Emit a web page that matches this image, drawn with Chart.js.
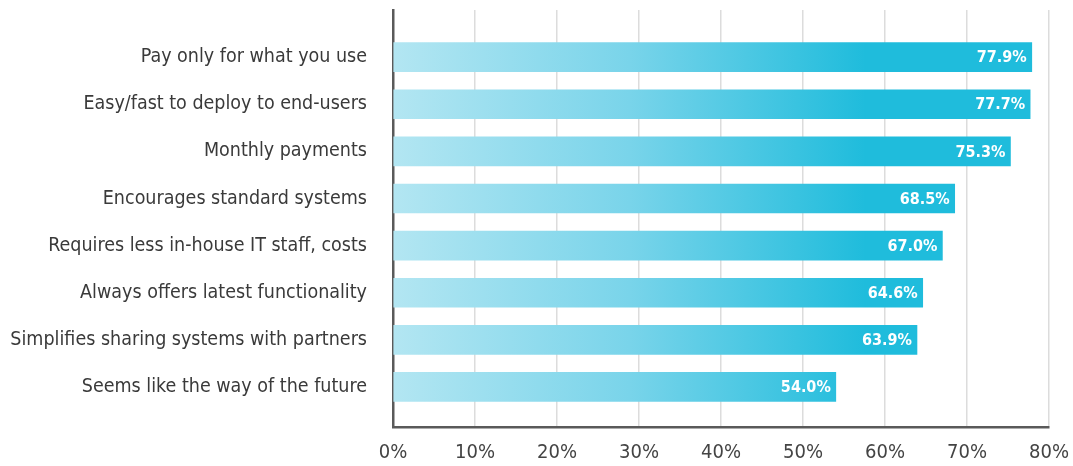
<!DOCTYPE html>
<html>
<head>
<meta charset="utf-8">
<script src="https://cdn.jsdelivr.net/npm/chart.js@4.4.0/dist/chart.umd.min.js"></script>
<style>
  html, body { margin: 0; padding: 0; background: #fff; }
  #wrap { width: 1073px; height: 466px; position: relative; }
</style>
</head>
<body>
<div id="wrap"><canvas id="benefitsChart"></canvas></div>
<script>
// categorias y valores
const categories = [
    'Pay only for what you use',
    'Easy/fast to deploy to end-users',
    'Monthly payments',
    'Encourages standard systems',
    'Requires less in-house IT staff, costs',
    'Always offers latest functionality',
    'Simplifies sharing systems with partners',
    'Seems like the way of the future'
];
const values = [77.9, 77.7, 75.3, 68.5, 67.0, 64.6, 63.9, 54.0];
const xTicks = [0, 10, 20, 30, 40, 50, 60, 70, 80];

const FONT = '"Liberation Sans Narrow", "DejaVu Sans Condensed", "Roboto", sans-serif';

// gradiente horizontal de las barras
function barGradient(context) {
    const chart = context.chart;
    const area = chart.chartArea;
    if (!area) return '#1fbcdc';
    const g = chart.ctx.createLinearGradient(area.left, 0, area.left + area.width * 0.72, 0);
    g.addColorStop(0, '#b3e6f2');
    g.addColorStop(0.5, '#79d4ea');
    g.addColorStop(1, '#1fbcdc');
    return g;
}

// etiquetas de valor dentro de la barra
const valueLabels = {
    id: 'valueLabels',
    afterDatasetsDraw(chart) {
        const ctx = chart.ctx;
        const meta = chart.getDatasetMeta(0);
        ctx.save();
        ctx.fillStyle = '#ffffff';
        ctx.font = 'bold 16px ' + FONT;
        ctx.textAlign = 'right';
        ctx.textBaseline = 'middle';
        meta.data.forEach((bar, i) => {
            ctx.fillText(values[i].toFixed(1) + '%', bar.x - 5, bar.y + 1);
        });
        ctx.restore();
    }
};

const ctx = document.getElementById('benefitsChart').getContext('2d');
const benefitsChart = new Chart(ctx, {
    type: 'bar',
    data: {
        datasets: [{
            data: values.map((v, i) => ({ x: v, y: i })),
            backgroundColor: barGradient,
            borderWidth: 0,
            barThickness: 29
        }]
    },
    options: {
        indexAxis: 'y',
        responsive: true,
        maintainAspectRatio: false,
        animation: false,
        layout: { padding: { top: 10, right: 24, left: 0, bottom: 0 } },
        plugins: {
            legend: { display: false },
            tooltip: { enabled: false }
        },
        scales: {
            x: {
                type: 'linear',
                min: 0,
                max: 80,
                afterBuildTicks(scale) {
                    scale.ticks = xTicks.map(v => ({ value: v }));
                },
                afterFit(scale) {
                    scale.height = 39;
                    scale.paddingLeft = 0;
                    scale.paddingRight = 0;
                },
                grid: { color: '#dcdcdc', lineWidth: 1.5, drawTicks: false },
                border: { display: true, color: '#5a5a5a', width: 2.5 },
                ticks: {
                    padding: 14,
                    color: '#444',
                    font: { family: FONT, size: 20 },
                    callback: v => v + '%'
                }
            },
            y: {
                type: 'linear',
                reverse: true,
                offset: false,
                min: -1.0,
                max: 7.85,
                afterBuildTicks(scale) {
                    scale.ticks = categories.map((c, i) => ({ value: i }));
                },
                afterFit(scale) {
                    scale.width = 393;
                    scale.paddingTop = 0;
                    scale.paddingBottom = 0;
                },
                grid: { display: false, drawTicks: false, offset: false },
                border: { display: true, color: '#5a5a5a', width: 2.5 },
                ticks: {
                    padding: 26,
                    color: '#3a3a3a',
                    font: { family: FONT, size: 19.5 },
                    callback: v => categories[v]
                }
            }
        }
    },
    plugins: [valueLabels]
});
</script>
</body>
</html>
